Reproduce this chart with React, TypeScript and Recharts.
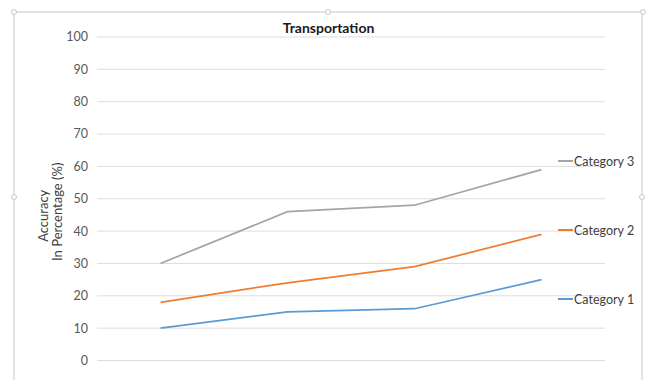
import React from "react";
import { LineChart, Line, XAxis, YAxis, CartesianGrid, Label } from "recharts";

// Four collection rounds along the x axis (labels not shown on the chart)
const categories = ["Round 1", "Round 2", "Round 3", "Round 4"];
const category1 = [10, 15, 16, 25];
const category2 = [18, 24, 29, 39];
const category3 = [30, 46, 48, 59];
const yTicks = [0, 10, 20, 30, 40, 50, 60, 70, 80, 90, 100];

const data = categories.map((name, i) => ({
  name,
  c1: category1[i],
  c2: category2[i],
  c3: category3[i],
}));

const series = [
  { key: "c3", name: "Category 3", color: "#A5A5A5" },
  { key: "c2", name: "Category 2", color: "#ED7D31" },
  { key: "c1", name: "Category 1", color: "#5B9BD5" },
];

// vertical placement of each legend entry (center line, px from top)
const legendTop: Record<string, number> = { c3: 161, c2: 230, c1: 299 };

const FONT = "Lato, 'Open Sans', sans-serif";
const W = 647;
const H = 380;

const YLabel = (props: any) => {
  const vb = props.viewBox || {};
  const cy = vb.y + vb.height / 2 + 17;
  return (
    <g>
      <text
        x={43}
        y={cy}
        transform={`rotate(-90 43 ${cy})`}
        textAnchor="middle"
        dominantBaseline="central"
        fontFamily={FONT}
        fontSize={13}
        fill="#404040"
      >
        Accuracy
      </text>
      <text
        x={57}
        y={cy - 4}
        transform={`rotate(-90 57 ${cy - 4})`}
        textAnchor="middle"
        dominantBaseline="central"
        fontFamily={FONT}
        fontSize={13}
        fill="#404040"
      >
        In Percentage (%)
      </text>
    </g>
  );
};

const Handle = ({ x, y }: { x: number; y: number }) => (
  <div
    style={{
      position: "absolute",
      left: x - 3,
      top: y - 3,
      width: 6,
      height: 6,
      borderRadius: 3,
      background: "#fff",
      border: "1px solid #C8C8C8",
      boxSizing: "border-box",
    }}
  />
);

export default function App() {
  return (
    <div style={{ position: "absolute", left: 0, top: 0, width: W, height: H, background: "#fff", overflow: "hidden" }}>
      <div
        style={{
          position: "absolute",
          left: 13,
          top: 11,
          width: 630,
          height: 400,
          border: "2px solid #E3E3E3",
          boxSizing: "border-box",
        }}
      />
      <div
        style={{
          position: "absolute",
          left: 0,
          width: W,
          top: 19,
          textAlign: "center",
          fontFamily: FONT,
          fontWeight: 700,
          fontSize: 14,
          color: "#1a1a1a",
          paddingLeft: 5,
        }}
      >
        Transportation
      </div>
      <div style={{ position: "absolute", left: 0, top: 0 }}>
        <LineChart width={W} height={H} data={data} margin={{ top: 37, right: 42, bottom: 19.5, left: 0 }}>
          <CartesianGrid vertical={false} stroke="#DDDDDD" strokeWidth={1} />
          <XAxis dataKey="name" hide padding={{ left: 63.5, right: 63.5 }} />
          <YAxis
            width={97}
            domain={[0, 100]}
            ticks={yTicks}
            axisLine={false}
            tickLine={false}
            tickMargin={3}
            interval={0}
            tick={{ fontFamily: FONT, fontSize: 12.5, fill: "#595959" }}
          >
            <Label content={YLabel} />
          </YAxis>
          {series.map((s) => (
            <Line
              key={s.key}
              type="linear"
              dataKey={s.key}
              name={s.name}
              stroke={s.color}
              strokeWidth={1.75}
              dot={false}
              activeDot={false}
              isAnimationActive={false}
            />
          ))}
        </LineChart>
      </div>
      {series.map((s) => (
        <div
          key={s.key}
          style={{
            position: "absolute",
            left: 558,
            top: legendTop[s.key] - 9,
            height: 18,
            display: "flex",
            alignItems: "center",
            fontFamily: FONT,
            fontSize: 12.5,
            color: "#404040",
            whiteSpace: "nowrap",
          }}
        >
          <span style={{ display: "inline-block", width: 15, height: 1.5, background: s.color, marginRight: 1 }} />
          {s.name}
        </div>
      ))}
      <Handle x={14} y={12} />
      <Handle x={328} y={12} />
      <Handle x={643} y={12} />
      <Handle x={14} y={197} />
      <Handle x={642} y={197} />
    </div>
  );
}
